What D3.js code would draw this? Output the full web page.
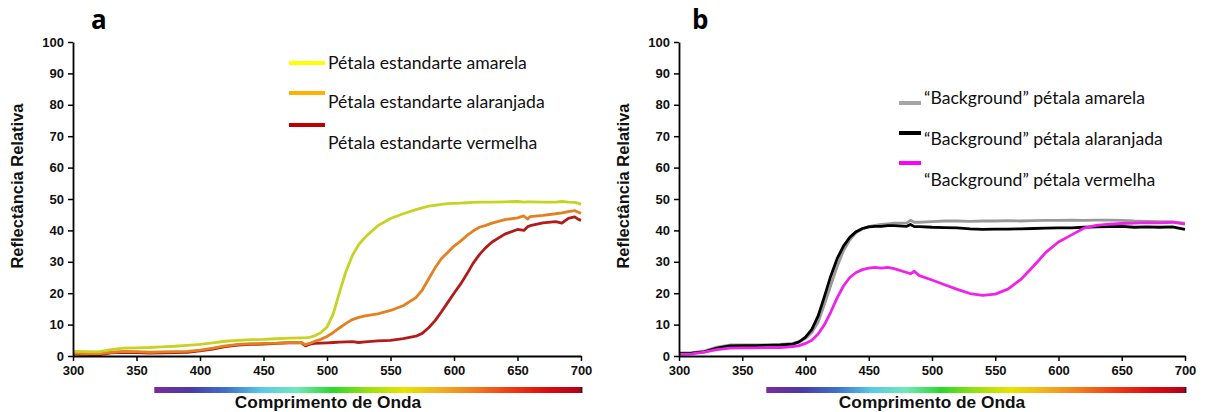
<!DOCTYPE html>
<html><head><meta charset="utf-8">
<script src="https://cdn.jsdelivr.net/npm/d3@7"></script>
<style>body{margin:0;background:#fff}svg{display:block}</style>
</head><body><svg id="c" width="1205" height="412"></svg>
<script>
// ---------- data ----------
const xTicks = [300,350,400,450,500,550,600,650,700];
const yTicks = [0,10,20,30,40,50,60,70,80,90,100];
const yLabel = "Reflectância Relativa";
const xLabel = "Comprimento de Onda";

// Panel a
const wlA = [300,310,320,330,340,350,360,370,380,390,400,410,420,430,440,450,460,470,480,483,486,490,495,500,505,510,515,520,525,530,540,550,560,570,575,580,585,590,595,600,605,610,615,620,625,630,640,650,655,658,660,670,680,685,690,695,698,700];
const amarela = [1.5,1.4,1.3,2.0,2.5,2.6,2.7,2.9,3.1,3.4,3.7,4.2,4.7,5.0,5.2,5.3,5.5,5.7,5.8,5.8,5.9,6.4,7.4,9.2,13.5,20.5,27,32,35.5,37.8,41.5,43.8,45.3,46.6,47.2,47.7,48.0,48.3,48.5,48.6,48.7,48.8,48.9,49.0,49.0,49.0,49.1,49.2,49.0,49.1,49.1,49.0,49.0,49.2,49.0,48.9,48.6,48.3];
const alaranjada = [0.9,0.8,0.7,1.2,1.5,1.4,1.2,1.3,1.4,1.5,1.9,2.5,3.2,3.7,3.9,4.0,4.1,4.3,4.3,3.6,4.0,4.6,5.3,6.2,7.5,9.0,10.4,11.6,12.3,12.8,13.4,14.5,16.0,18.6,21.0,24.5,28.0,31.0,33.0,35.0,36.5,38.3,39.8,41.0,41.6,42.3,43.4,44.0,44.6,43.6,44.4,44.8,45.3,45.6,46.0,46.3,45.8,45.4];
const vermelha = [0.6,0.5,0.4,1.0,1.2,1.1,0.9,1.0,1.1,1.2,1.6,2.2,3.0,3.5,3.7,3.8,4.0,4.2,4.2,3.2,3.7,4.0,4.1,4.2,4.3,4.4,4.5,4.6,4.3,4.5,4.8,5.0,5.5,6.3,7.2,9.0,11.2,14.0,17.0,20.0,22.8,26.0,29.5,32.3,34.5,36.3,38.8,40.3,40.0,41.2,41.5,42.4,42.8,42.3,43.8,44.3,43.5,43.2];
const namesA = ["Pétala estandarte amarela","Pétala estandarte alaranjada","Pétala estandarte vermelha"];

// Panel b
const wlB = [300,310,320,330,340,350,360,370,380,390,395,400,405,410,415,420,425,430,435,440,445,450,455,460,465,470,480,483,486,490,500,510,520,530,540,550,560,570,580,590,600,610,620,630,640,650,660,670,680,690,700];
const bgAmarela = [1.0,1.0,1.6,2.8,3.5,3.5,3.5,3.6,3.7,4.0,4.6,5.6,7.5,10.8,16.5,22.5,28.5,33.5,37.0,39.3,40.5,41.2,41.6,41.9,42.1,42.3,42.4,43.2,42.6,42.6,42.8,43.0,43.0,42.9,43.0,43.0,43.1,43.0,43.1,43.2,43.2,43.3,43.2,43.3,43.3,43.2,43.0,42.9,42.8,42.7,42.3];
const bgAlaranjada = [0.8,0.9,1.3,2.5,3.2,3.3,3.3,3.4,3.5,3.8,4.5,6.0,8.5,12.8,19.0,25.5,31.0,35.0,37.8,39.6,40.6,41.1,41.3,41.3,41.5,41.5,41.3,41.9,41.2,41.2,41.0,40.9,40.8,40.5,40.3,40.4,40.4,40.5,40.6,40.7,40.8,40.8,41.0,41.1,41.2,41.3,41.0,41.1,41.0,41.1,40.3];
const bgVermelha = [0.5,0.7,1.2,2.0,2.5,2.6,2.6,2.7,2.7,3.0,3.3,4.0,5.0,7.0,10.0,14.0,18.5,22.3,25.0,26.6,27.5,28.0,28.2,28.0,28.2,27.8,26.6,26.2,27.0,25.6,24.2,22.7,21.2,19.9,19.3,19.7,21.3,24.3,28.5,33.0,36.3,38.5,40.7,41.6,42.0,42.2,42.3,42.5,42.4,42.6,42.0];
const namesB = ["\u201cBackground\u201d pétala amarela","\u201cBackground\u201d pétala alaranjada","\u201cBackground\u201d pétala vermelha"];

// ---------- drawing ----------
const svg = d3.select("#c");
const spectrum = ["#7b2b9b","#4a3aa6","#3f6fc8","#5ac8e8","#72e8b8","#2ad82a","#9ae010","#e8e400","#f2b020","#f27a1c","#ee3a14","#dc0c10","#b00018"];
const defs = svg.append("defs");
const grad = defs.append("linearGradient").attr("id","spec").attr("x1","0").attr("x2","1").attr("y1","0").attr("y2","0");
grad.selectAll("stop").data(spectrum).join("stop")
  .attr("offset",(d,i)=>i/(spectrum.length-1)).attr("stop-color",d=>d);

function panel(o){
  const x = d3.scaleLinear().domain([300,700]).range([o.x0,o.x1]);
  const y = d3.scaleLinear().domain([0,100]).range([356,42]);
  const g = svg.append("g");

  // lines
  const line = d3.line().x(d=>x(d[0])).y(d=>y(d[1]));
  o.series.forEach(s=>{
    g.append("path").datum(o.wl.map((w,i)=>[w,s.v[i]]))
      .attr("d",line).attr("fill","none").attr("stroke",s.c)
      .attr("stroke-width",2.8).attr("stroke-linejoin","round");
  });

  // axes
  const ya = g.append("g").attr("transform",`translate(${o.x0},0)`)
    .call(d3.axisLeft(y).tickValues(yTicks).tickSize(5).tickSizeOuter(0).tickPadding(4));
  const xa = g.append("g").attr("transform","translate(0,356)")
    .call(d3.axisBottom(x).tickValues(xTicks).tickSize(5).tickSizeOuter(0).tickPadding(5));
  [ya,xa].forEach(a=>{
    a.select(".domain").attr("stroke","#000").attr("stroke-width",1.8);
    a.selectAll(".tick line").attr("stroke","#000").attr("stroke-width",1.5);
    a.selectAll(".tick text").attr("fill","#111").attr("font-family","Liberation Sans, Arial, sans-serif")
      .attr("font-weight","bold").attr("font-size",13);
  });

  // y label
  g.append("text").attr("transform",`translate(${o.x0-56},186) rotate(-90)`)
    .attr("text-anchor","middle").attr("dominant-baseline","central")
    .attr("font-family","Liberation Sans, Arial, sans-serif").attr("font-weight","bold").attr("font-size",16.5)
    .attr("fill","#111").text(yLabel);

  // panel letter
  g.append("text").attr("x",o.lx).attr("y",29).attr("font-family","Open Sans, sans-serif")
    .attr("font-weight","bold").attr("font-size",26).attr("fill","#000").text(o.letter);

  // spectrum bar
  g.append("rect").attr("x",x(o.barFrom)).attr("y",387).attr("width",x(o.barTo)-x(o.barFrom)).attr("height",6)
    .attr("fill","url(#spec)");
  g.append("rect").attr("x",x(o.barTo)-1.5).attr("y",387).attr("width",1.5).attr("height",6).attr("fill","#222");

  // x label
  g.append("text").attr("x",o.xlc).attr("y",402).attr("text-anchor","middle").attr("dominant-baseline","central")
    .attr("font-family","Liberation Sans, Arial, sans-serif").attr("font-weight","bold").attr("font-size",17.3)
    .attr("fill","#111").text(xLabel);

  // legend
  o.legend.forEach((l,i)=>{
    g.append("line").attr("x1",l.lx1).attr("x2",l.lx2).attr("y1",l.ly).attr("y2",l.ly)
      .attr("stroke",l.c).attr("stroke-width",4);
    g.append("text").attr("x",l.tx).attr("y",l.ty).attr("dominant-baseline","central")
      .attr("font-family","Lato, Open Sans, sans-serif").attr("font-size",17.6).attr("fill","#111").text(l.t);
  });
}

panel({
  x0:73, x1:581, wl:wlA, letter:"a", lx:91, barFrom:364, barTo:701, xlc:328,
  series:[{v:vermelha,c:"#b31a1a"},{v:alaranjada,c:"#e4801f"},{v:amarela,c:"#c6d322"}],
  legend:[
    {lx1:289,lx2:325,ly:63,c:"#ffff00",tx:328,ty:62,t:namesA[0]},
    {lx1:289,lx2:325,ly:93,c:"#ffb000",tx:328,ty:101,t:namesA[1]},
    {lx1:289,lx2:325,ly:125,c:"#c00000",tx:328,ty:142,t:namesA[2]}
  ]
});
panel({
  x0:679, x1:1185, wl:wlB, letter:"b", lx:692, barFrom:369, barTo:701, xlc:932,
  series:[{v:bgAmarela,c:"#999999"},{v:bgAlaranjada,c:"#000000"},{v:bgVermelha,c:"#ee22e8"}],
  legend:[
    {lx1:899,lx2:921,ly:103,c:"#a6a6a6",tx:924,ty:97,t:namesB[0]},
    {lx1:899,lx2:921,ly:133,c:"#000000",tx:924,ty:138,t:namesB[1]},
    {lx1:899,lx2:921,ly:163,c:"#ff00ff",tx:924,ty:179,t:namesB[2]}
  ]
});
</script></body></html>
